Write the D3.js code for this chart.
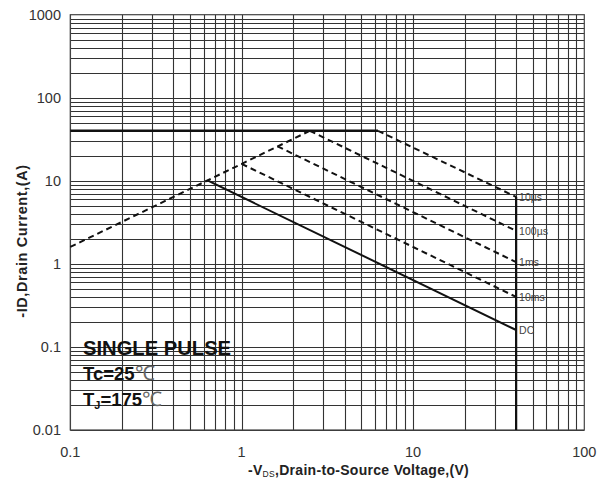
<!DOCTYPE html>
<html><head><meta charset="utf-8">
<script src="https://cdn.jsdelivr.net/npm/d3@7"></script>
<style>body{margin:0;background:#fff}svg{display:block}</style>
</head><body>
<svg id="c" width="599" height="485"></svg>
<script>
// ---- data ----
const xTickValues = [0.1, 1, 10, 100];
const xTickLabels = ["0.1", "1", "10", "100"];
const yTickValues = [0.01, 0.1, 1, 10, 100, 1000];
const yTickLabels = ["0.01", "0.1", "1", "10", "100", "1000"];
const rdsLimit = [[0.1, 1.6], [2.5, 40]];
const currentLimit = [[0.1, 40], [6.25, 40]];
const pulse10us = [[6.25, 40], [40, 6.4]];
const pulse100us = [[2.5, 40], [40, 2.5]];
const pulse1ms = [[1.62, 26], [40, 1.05]];
const pulse10ms = [[1.0, 16], [40, 0.4]];
const dcLine = [[0.632, 10.1], [40, 0.16]];
const vdsLimit = [[40, 6.4], [40, 0.01]];
const curveLabels = ["10µs", "100µs", "1ms", "10ms", "DC"];
const curveLabelValues = [6.4, 2.5, 1.05, 0.4, 0.16];

const svg = d3.select("#c");
const L = 70.3, R = 584.3, T = 14.7, B = 430;
const x = d3.scaleLog().domain([0.1, 100]).range([L, R]);
const y = d3.scaleLog().domain([0.01, 1000]).range([B, T]);
const F = "Arial, 'Liberation Sans', sans-serif";

// grid
const xs = [], ys = [];
for (let e = -1; e < 2; e++) for (let m = 1; m <= 9; m++) xs.push(m * Math.pow(10, e));
for (let e = -2; e < 3; e++) for (let m = 1; m <= 9; m++) ys.push(m * Math.pow(10, e));
const g = svg.append("g");
g.selectAll(".vx").data(xs).enter().append("line")
  .attr("x1", d => Math.round(x(d)) + 0.5).attr("x2", d => Math.round(x(d)) + 0.5)
  .attr("y1", T).attr("y2", B).attr("stroke", "#333").attr("stroke-width", 1.1);
g.selectAll(".hy").data(ys).enter().append("line")
  .attr("y1", d => Math.round(y(d)) + 0.5).attr("y2", d => Math.round(y(d)) + 0.5)
  .attr("x1", L).attr("x2", R).attr("stroke", "#333").attr("stroke-width", 1.1);
svg.append("rect").attr("x", L).attr("y", T).attr("width", R - L).attr("height", B - T)
  .attr("fill", "none").attr("stroke", "#444").attr("stroke-width", 1.2);

// curves
const line = d3.line().x(d => x(d[0])).y(d => y(d[1]));
function draw(data, dashed, w) {
  svg.append("path").datum(data).attr("d", line).attr("fill", "none")
    .attr("stroke", "#111").attr("stroke-width", w || 2)
    .attr("stroke-dasharray", dashed ? "6,4" : null);
}
draw(currentLimit, false, 2.6);
draw(rdsLimit, true);
draw(pulse10us, true);
draw(pulse100us, true);
draw(pulse1ms, true);
draw(pulse10ms, true);
draw(dcLine, false);
draw(vdsLimit, false, 2.2);

// curve labels
svg.selectAll(".cl").data(curveLabels).enter().append("text")
  .attr("x", x(40) + 3).attr("y", (d, i) => y(curveLabelValues[i]) + 4)
  .attr("font-family", F).attr("font-size", 10.5)
  .attr("fill", "#444").text(d => d);

// tick labels
svg.selectAll(".xt").data(xTickValues).enter().append("text")
  .attr("x", d => x(d)).attr("y", 457).attr("text-anchor", "middle")
  .attr("font-family", F).attr("font-size", 14.5)
  .attr("fill", "#333").text((d, i) => xTickLabels[i]);
svg.selectAll(".yt").data(yTickValues).enter().append("text")
  .attr("x", 61).attr("y", d => y(d) + 5).attr("text-anchor", "end")
  .attr("font-family", F).attr("font-size", 14.5)
  .attr("fill", "#333").text((d, i) => yTickLabels[i]);

// axis titles
const xt = svg.append("text").attr("x", 358.5).attr("y", 475).attr("text-anchor", "middle")
  .attr("font-family", F).attr("font-size", 14).attr("letter-spacing", 0.3)
  .attr("font-weight", "bold").attr("fill", "#222");
xt.append("tspan").text("-V");
xt.append("tspan").attr("font-size", 8.5).attr("font-weight", "normal").attr("dy", 2).text("DS");
xt.append("tspan").attr("dy", -2).text(",Drain-to-Source Voltage,(V)");

svg.append("text").attr("transform", "translate(27,241) rotate(-90)").attr("text-anchor", "middle")
  .attr("font-family", F).attr("font-size", 14.5).attr("letter-spacing", 0.6)
  .attr("font-weight", "bold").attr("fill", "#222").text("-ID,Drain Current,(A)");

// annotations
svg.append("text").attr("x", 83).attr("y", 355).attr("font-family", F).attr("font-size", 20.2)
  .attr("font-weight", "bold").attr("fill", "#111").text("SINGLE PULSE");
const t1 = svg.append("text").attr("x", 83).attr("y", 380).attr("font-family", F).attr("font-size", 18.5)
  .attr("font-weight", "bold").attr("fill", "#111");
t1.append("tspan").text("Tc=25");
t1.append("tspan").attr("font-weight", "normal").attr("fill", "#666").attr("font-size", 20).text("℃");
const t2 = svg.append("text").attr("x", 83).attr("y", 406).attr("font-family", F).attr("font-size", 18.5)
  .attr("font-weight", "bold").attr("fill", "#111");
t2.append("tspan").text("T");
t2.append("tspan").attr("font-size", 11).attr("dy", 3).text("J");
t2.append("tspan").attr("dy", -3).text("=175");
t2.append("tspan").attr("font-weight", "normal").attr("fill", "#666").attr("font-size", 20).text("℃");
</script>
</body></html>
